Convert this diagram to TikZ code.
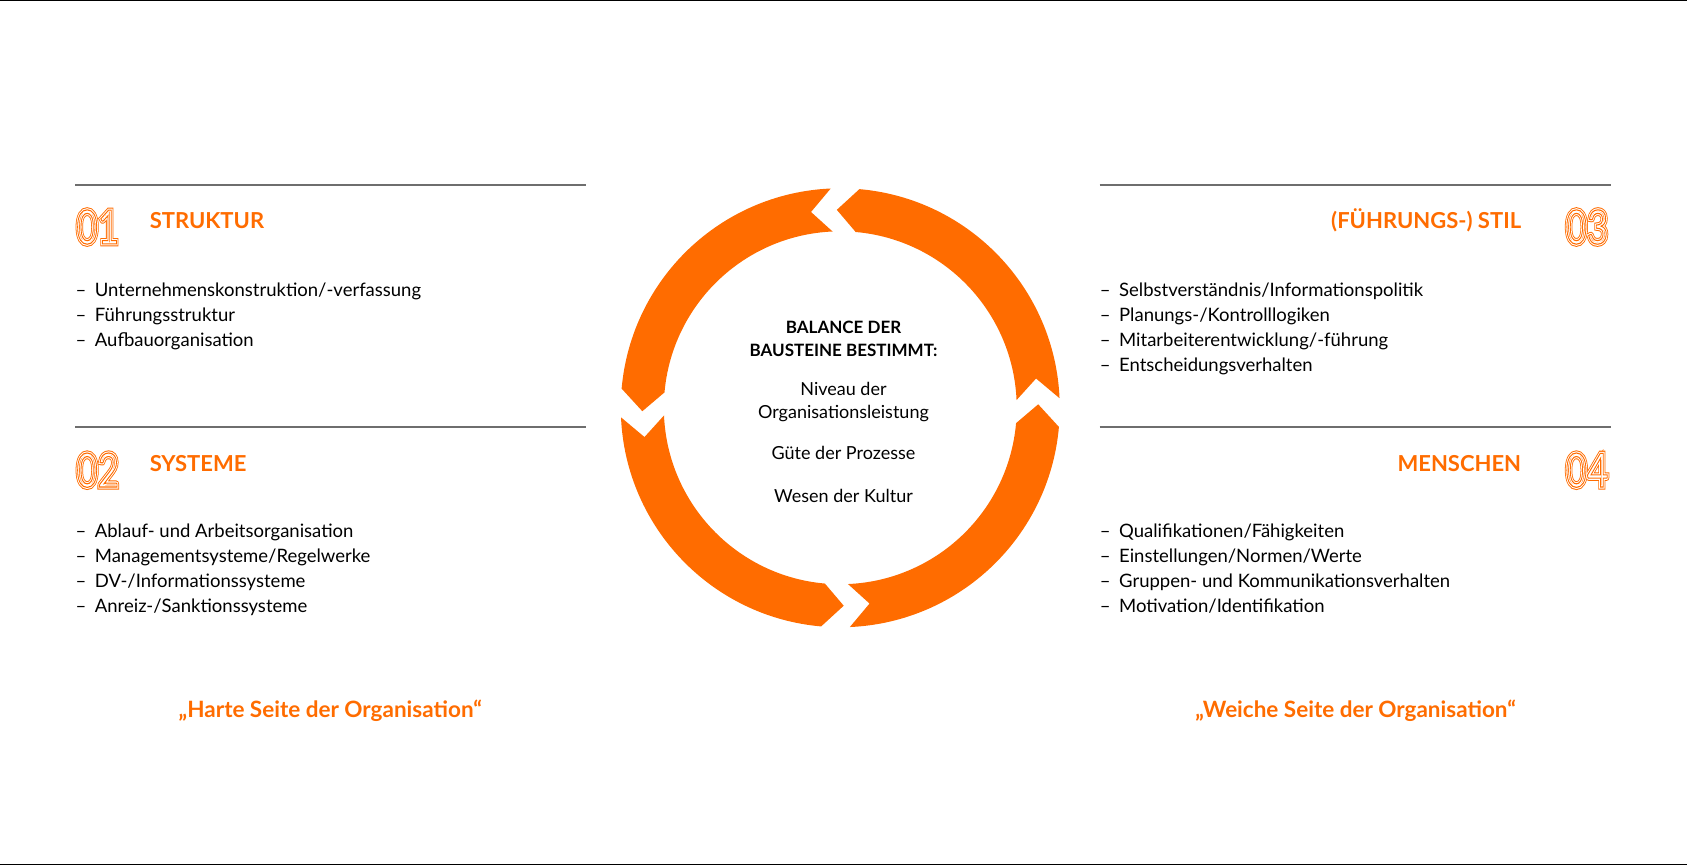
\documentclass[tikz,border=0pt]{standalone}
\usepackage{fontspec}
\usetikzlibrary{calc}
\setmainfont{Lato}
\definecolor{org}{RGB}{255,108,0}
\definecolor{ln}{RGB}{110,110,110}
\newcommand{\strk}[3]{\special{pdf:code q 1 Tr #1 w #2 RG}#3\special{pdf:code Q}}
\begin{document}
\begin{tikzpicture}[x=1.076pt,y=-1.076pt,
  sep/.style={draw=ln,line width=1.3pt},
  item/.style={anchor=base west,inner sep=0,font=\fontsize{18.5}{20}\selectfont},
  head/.style={inner sep=0,text=org,font=\fontsize{22}{24}\bfseries\selectfont},
  quote/.style={inner sep=0,text=org,font=\fontsize{22.5}{24}\bfseries\selectfont},
  ctr/.style={inner sep=0,anchor=base,align=center},
  seg/.style={fill=org,draw=none}]
\useasboundingbox (0,0) rectangle (1568,804);
\draw[black,line width=1pt] (0,0.5) -- (1568,0.5);
\draw[black,line width=1pt] (0,803.5) -- (1568,803.5);
% separators
\draw[sep] (70,172) coordinate (l1a) -- (545,172) coordinate (l1b);
\draw[sep] (70,397) coordinate (l2a) -- (545,397) coordinate (l2b);
\draw[sep] (1022,172) coordinate (r1a) -- (1497,172) coordinate (r1b);
\draw[sep] (1022,397) coordinate (r2a) -- (1497,397) coordinate (r2b);
% numerals
\newcommand{\numer}[3]{%
 \node[inner sep=0,anchor=#3,xscale=0.78,font=\fontsize{47}{47}\selectfont] at #1 {\strk{5.2}{1 0.424 0}{#2}};
 \node[inner sep=0,anchor=#3,xscale=0.78,font=\fontsize{47}{47}\selectfont] at #1 {\strk{3.2}{1 1 1}{#2}};
 \node[inner sep=0,anchor=#3,xscale=0.78,font=\fontsize{47}{47}\selectfont] at #1 {\strk{1.1}{1 0.424 0}{#2}};}
\numer{(71,211)}{01}{west}
\numer{(71,437)}{02}{west}
\numer{(1495,211)}{03}{east}
\numer{(1495,437)}{04}{east}
% headings
\node[head,anchor=west] (h1) at (139,205) {STRUKTUR};
\node[head,anchor=west] (h2) at (139,431) {SYSTEME};
\node[head,anchor=east] (h3) at (1414,205) {(FÜHRUNGS-) STIL};
\node[head,anchor=east] (h4) at (1414,431) {MENSCHEN};
% lists
\newcommand{\li}[3]{\node[item] at (#1,#2) {–}; \node[item] at (#1+18,#2) {#3};}
\li{70}{276}{Unternehmenskonstruktion/-verfassung}
\li{70}{299}{Führungsstruktur}
\li{70}{322}{Aufbauorganisation}
\li{70}{500}{Ablauf- und Arbeitsorganisation}
\li{70}{523}{Managementsysteme/Regelwerke}
\li{70}{546}{DV-/Informationssysteme}
\li{70}{569}{Anreiz-/Sanktionssysteme}
\li{1022}{276}{Selbstverständnis/Informationspolitik}
\li{1022}{299}{Planungs-/Kontrolllogiken}
\li{1022}{322}{Mitarbeiterentwicklung/-führung}
\li{1022}{345}{Entscheidungsverhalten}
\li{1022}{500}{Qualifikationen/Fähigkeiten}
\li{1022}{523}{Einstellungen/Normen/Werte}
\li{1022}{546}{Gruppen- und Kommunikationsverhalten}
\li{1022}{569}{Motivation/Identifikation}
% quotes
\node[quote] (q1) at (307,661) {„Harte Seite der Organisation“};
\node[quote] (q2) at (1260,661) {„Weiche Seite der Organisation“};
% ring
\coordinate (c) at (781,379);
\foreach \k in {0,1,2,3}{
  \pgfmathsetmacro{\a}{-(90*\k+2.5)}
  \pgfmathsetmacro{\n}{-(90*\k+8.5)}
  \pgfmathsetmacro{\b}{-(90*\k+85)}
  \pgfmathsetmacro{\t}{-(90*\k+91)}
  \fill[seg] ($(c)+(\a:204)$) arc[start angle=\a,end angle=\b,radius=204]
     -- ($(c)+(\t:184)$) -- ($(c)+(\b:164)$)
     arc[start angle=\b,end angle=\a,radius=164]
     -- ($(c)+(\n:184)$) -- cycle;
}
% centre text
\node[ctr,font=\fontsize{17}{20}\bfseries\selectfont] (t1) at (784,310) {BALANCE DER};
\node[ctr,font=\fontsize{17}{20}\bfseries\selectfont] (t2) at (784,331) {BAUSTEINE BESTIMMT:};
\node[ctr,font=\fontsize{18}{20}\selectfont] (t3) at (784,368) {Niveau der};
\node[ctr,font=\fontsize{18}{20}\selectfont] (t4) at (784,389) {Organisationsleistung};
\node[ctr,font=\fontsize{18}{20}\selectfont] (t5) at (784,427) {Güte der Prozesse};
\node[ctr,font=\fontsize{18}{20}\selectfont] (t6) at (784,467) {Wesen der Kultur};
\end{tikzpicture}
\end{document}
